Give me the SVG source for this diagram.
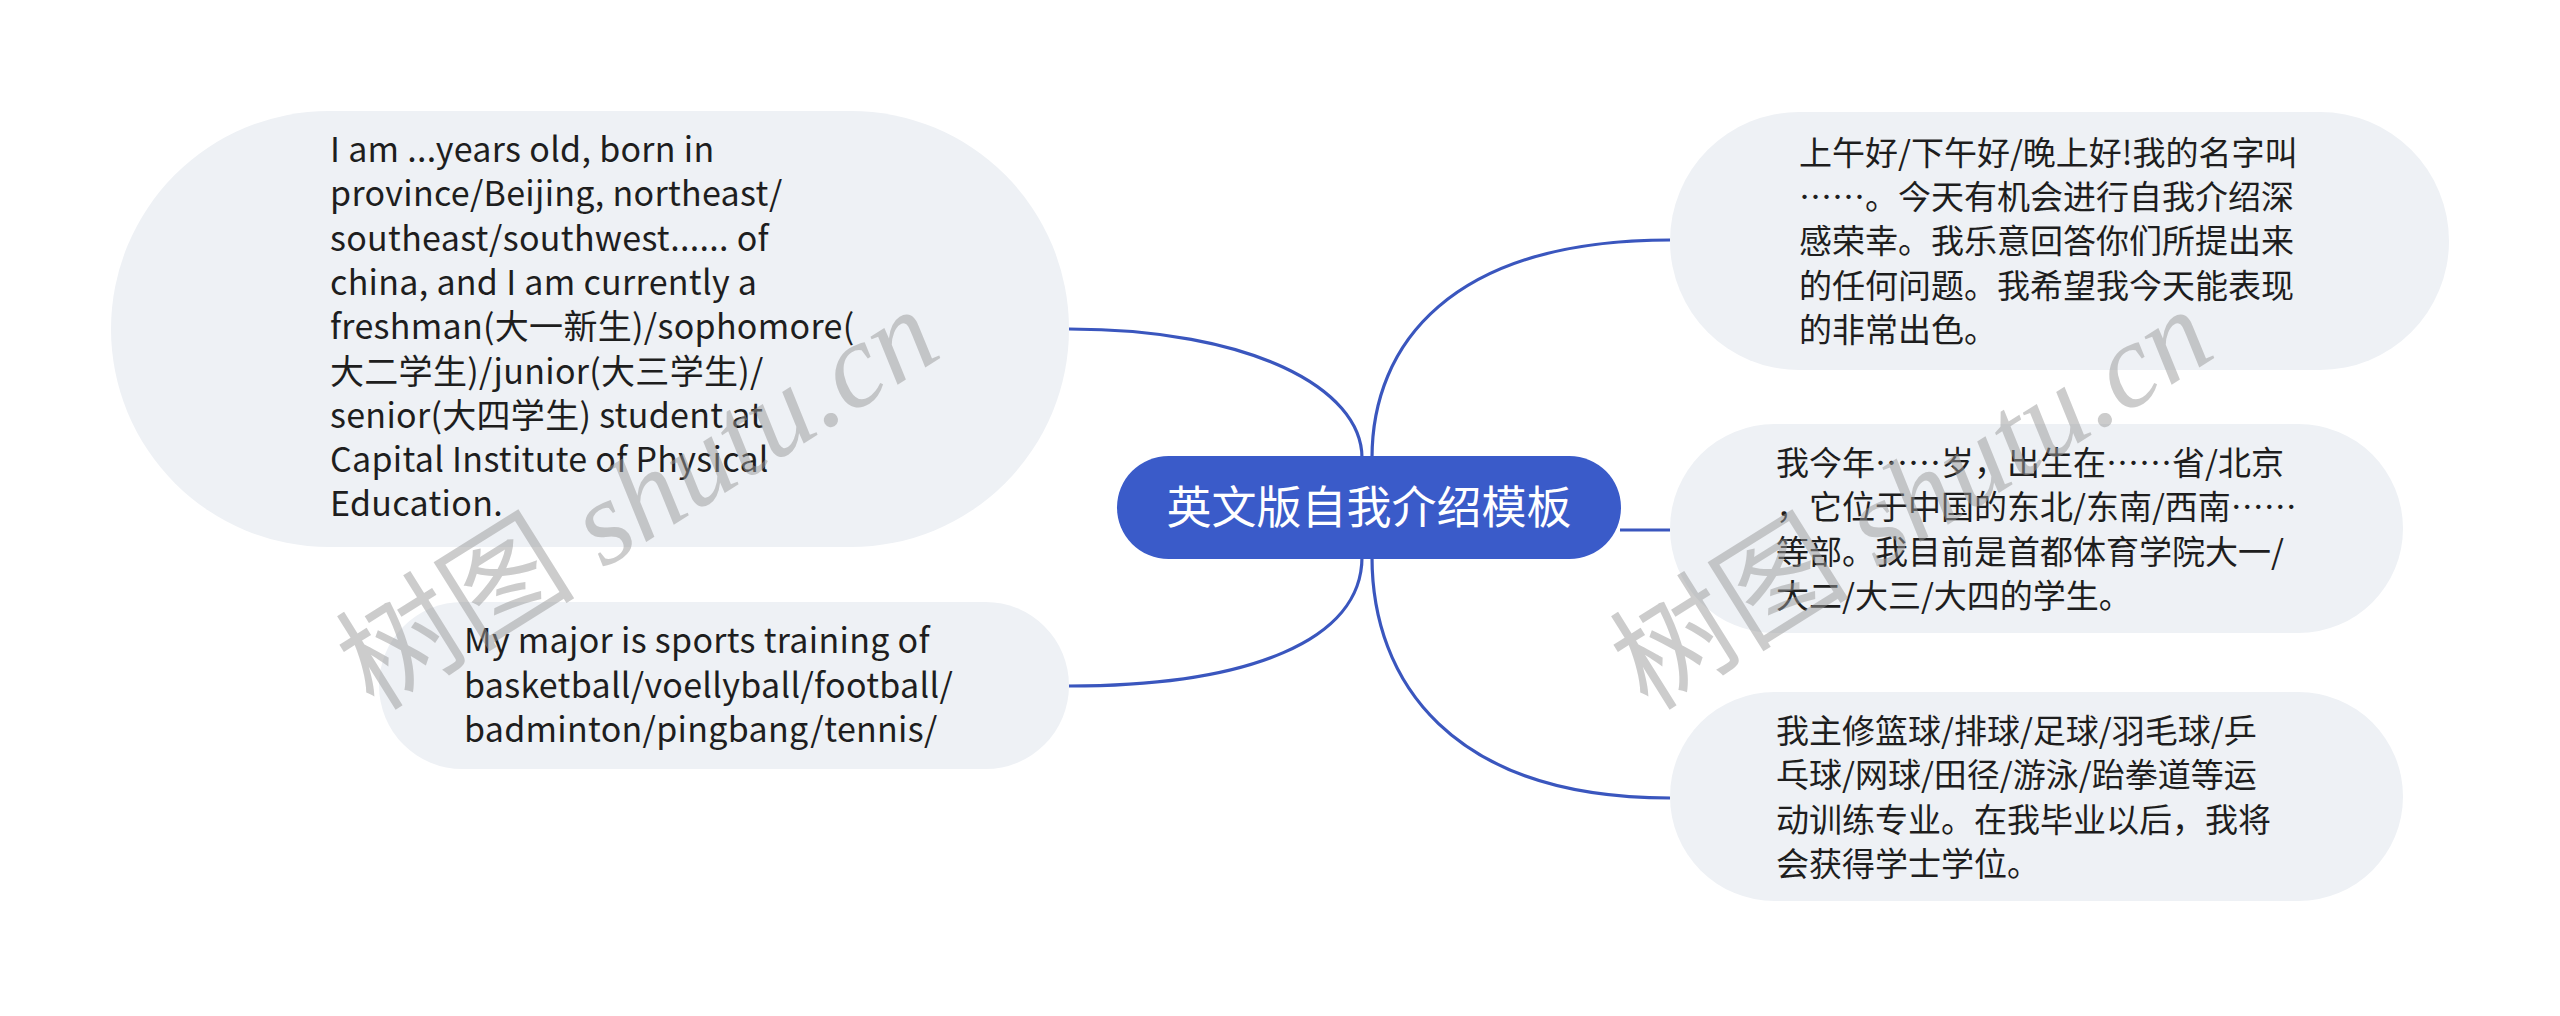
<svg xmlns="http://www.w3.org/2000/svg" width="2560" height="1016" viewBox="0 0 2560 1016">
<style>
.bg{fill:#ffffff}
.node{fill:#eef1f5}
.root{fill:#3a5bc9}
.t{font-family:"Noto Sans CJK SC","Noto Sans",sans-serif;font-size:33px;fill:#1e1e1e}
.tl{font-size:34px;letter-spacing:0.3px}
.rt{font-family:"Noto Sans CJK SC",sans-serif;font-size:45px;fill:#ffffff}
.edge{fill:none;stroke:#3a56be;stroke-width:3.2}
.wm{font-size:120px;fill:#9a9a9a;opacity:0.5}
.wmc{font-family:"Noto Sans CJK SC",sans-serif}
.wml{font-family:"Liberation Serif",serif;font-style:italic}
</style>
<rect class="bg" x="0" y="0" width="2560" height="1016"/>
<g id="connectors">
<path class="edge" d="M1069,329 C1250,329 1362,388 1362,458"/>
<path class="edge" d="M1069,686 C1250,686 1362,640 1362,557"/>
<path class="edge" d="M1372,458 C1372,345 1450,240 1670,240"/>
<path class="edge" d="M1620,530 L1670,530"/>
<path class="edge" d="M1372,557 C1372,680 1450,798 1670,798"/>
</g>
<g id="node-root">
<rect class="root" x="1117" y="456" width="504" height="103" rx="51.5"/>
<text class="rt" x="1369" y="524" text-anchor="middle">英文版自我介绍模板</text>
</g>
<g id="node-left-1">
<rect class="node" x="111" y="111" width="958" height="436" rx="218"/>
<text class="t tl" x="330" y="162">
<tspan x="330">I am ...years old, born in</tspan>
<tspan x="330" dy="44.3">province/Beijing, northeast/</tspan>
<tspan x="330" dy="44.3">southeast/southwest...... of</tspan>
<tspan x="330" dy="44.3">china, and I am currently a</tspan>
<tspan x="330" dy="44.3">freshman(大一新生)/sophomore(</tspan>
<tspan x="330" dy="44.3">大二学生)/junior(大三学生)/</tspan>
<tspan x="330" dy="44.3">senior(大四学生) student at</tspan>
<tspan x="330" dy="44.3">Capital Institute of Physical</tspan>
<tspan x="330" dy="44.3">Education.</tspan>
</text>
</g>
<g id="node-left-2">
<rect class="node" x="379" y="602" width="690" height="167" rx="83.5"/>
<text class="t tl" x="464" y="653">
<tspan x="464">My major is sports training of</tspan>
<tspan x="464" dy="44.5">basketball/voellyball/football/</tspan>
<tspan x="464" dy="44.5">badminton/pingbang/tennis/</tspan>
</text>
</g>
<g id="node-right-1">
<rect class="node" x="1670" y="112" width="779" height="258" rx="129"/>
<text class="t" x="1799" y="165">
<tspan x="1799">上午好/下午好/晚上好!我的名字叫</tspan>
<tspan x="1799" dy="44.2">……。今天有机会进行自我介绍深</tspan>
<tspan x="1799" dy="44.2">感荣幸。我乐意回答你们所提出来</tspan>
<tspan x="1799" dy="44.2">的任何问题。我希望我今天能表现</tspan>
<tspan x="1799" dy="44.2">的非常出色。</tspan>
</text>
</g>
<g id="node-right-2">
<rect class="node" x="1670" y="424" width="733" height="209" rx="104.5"/>
<text class="t" x="1776" y="475">
<tspan x="1776">我今年……岁，出生在……省/北京</tspan>
<tspan x="1776" dy="44.3">，它位于中国的东北/东南/西南……</tspan>
<tspan x="1776" dy="44.3">等部。我目前是首都体育学院大一/</tspan>
<tspan x="1776" dy="44.3">大二/大三/大四的学生。</tspan>
</text>
</g>
<g id="node-right-3">
<rect class="node" x="1670" y="692" width="733" height="209" rx="104.5"/>
<text class="t" x="1776" y="743">
<tspan x="1776">我主修篮球/排球/足球/羽毛球/乒</tspan>
<tspan x="1776" dy="44.3">乓球/网球/田径/游泳/跆拳道等运</tspan>
<tspan x="1776" dy="44.3">动训练专业。在我毕业以后，我将</tspan>
<tspan x="1776" dy="44.3">会获得学士学位。</tspan>
</text>
</g>
<g id="watermarks">
<text class="wm" transform="translate(374,712) rotate(-32)"><tspan class="wmc">树图</tspan><tspan class="wml"> shutu.cn</tspan></text>
<text class="wm" transform="translate(1648,712) rotate(-32)"><tspan class="wmc">树图</tspan><tspan class="wml"> shutu.cn</tspan></text>
</g>
</svg>
